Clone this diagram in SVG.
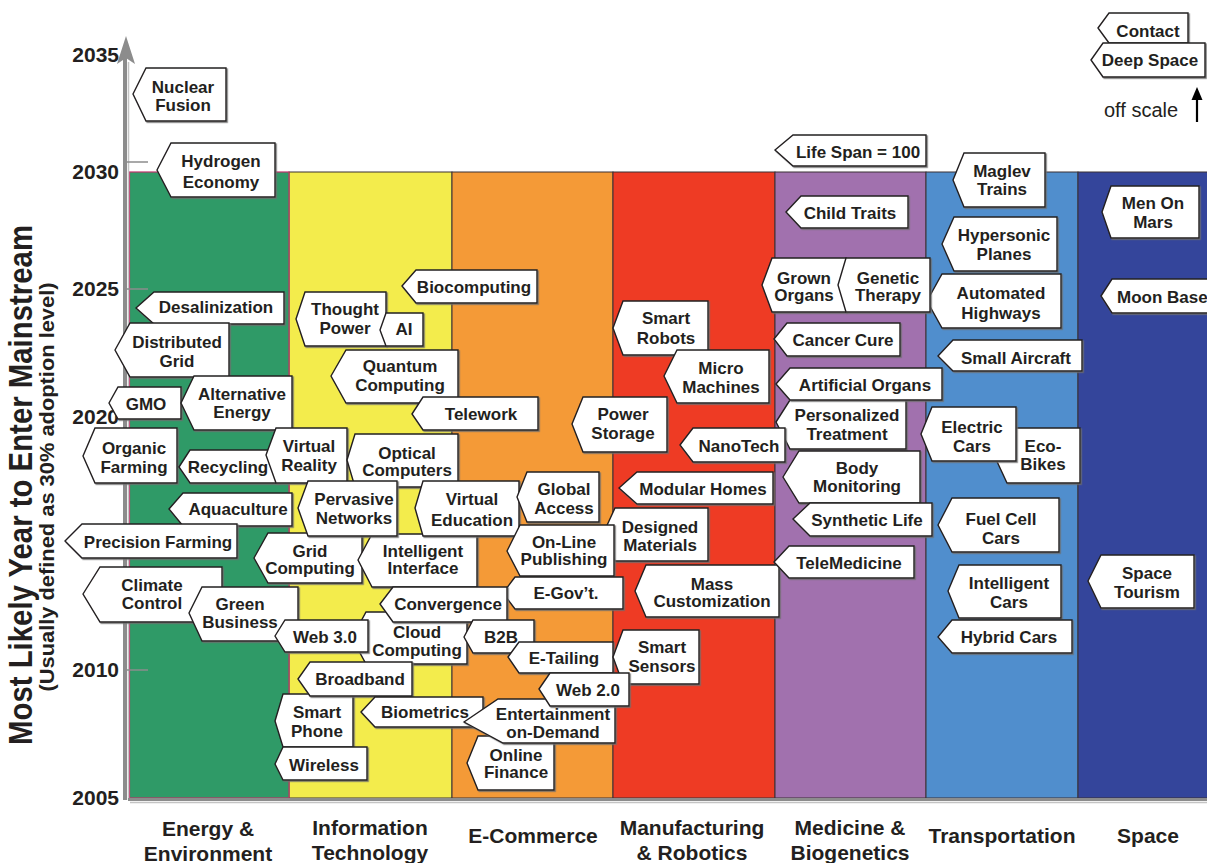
<svg xmlns="http://www.w3.org/2000/svg" width="1207" height="863" viewBox="0 0 1207 863">
<defs>
<filter id="sh" x="-5%" y="-5%" width="115%" height="130%">
<feDropShadow dx="1.2" dy="1.2" stdDeviation="0.3" flood-color="#6d6d6d" flood-opacity="0.9"/>
</filter>
<style>
.col { stroke:#3a3035; stroke-width:1; }
.tag polygon { fill:#fff; stroke:#231f20; stroke-width:1.4; filter:url(#sh); }
.tag text { font-family:"Liberation Sans", Arial, sans-serif; font-weight:bold; font-size:17px; fill:#231f20; text-anchor:middle; }
.yr { font-family:"Liberation Sans", Arial, sans-serif; font-weight:bold; font-size:21px; fill:#231f20; text-anchor:end; }
.cat { font-family:"Liberation Sans", Arial, sans-serif; font-weight:bold; font-size:21px; fill:#231f20; text-anchor:middle; }
.tick { stroke:#8c8c8c; stroke-width:1.5; }
</style>
</defs>
<rect width="1207" height="863" fill="#fff"/>

<g id="columns">
<rect class="col" x="289" y="172" width="163" height="626" fill="#f3ec4c"/>
<rect class="col" x="452" y="172" width="161" height="626" fill="#f49a37"/>
<rect class="col" x="613" y="172" width="162" height="626" fill="#ee3b24"/>
<rect class="col" x="775" y="172" width="151" height="626" fill="#a171ae"/>
<rect class="col" x="926" y="172" width="152" height="626" fill="#508ecd"/>
<rect class="col" x="1078" y="172" width="135" height="626" fill="#34459b"/>
<rect x="129.5" y="172" width="159.5" height="626" fill="#2f9a67" stroke="#c0336a" stroke-width="1.2"/>
</g>

<g id="axes">
<line x1="125" y1="58" x2="125" y2="800" stroke="#8c8c8c" stroke-width="4"/>
<line x1="128.5" y1="62" x2="128.5" y2="800" stroke="#c4c4c4" stroke-width="1.5"/>
<polygon points="126,36 135,64 126,58 117,64" fill="#8c8c8c"/>
<line x1="128" y1="799.5" x2="1207" y2="799.5" stroke="#8c8c8c" stroke-width="3"/>
<line x1="130" y1="802.5" x2="1207" y2="802.5" stroke="#c4c4c4" stroke-width="1.5"/>
<line class="tick" x1="125" y1="162" x2="148" y2="162"/>
<line class="tick" x1="125" y1="289" x2="148" y2="289"/>
<line class="tick" x1="125" y1="416" x2="148" y2="416"/>
<line class="tick" x1="125" y1="543" x2="148" y2="543"/>
<line class="tick" x1="125" y1="670" x2="148" y2="670"/>
<text class="yr" x="119" y="62">2035</text>
<text class="yr" x="119" y="179">2030</text>
<text class="yr" x="119" y="296">2025</text>
<text class="yr" x="119" y="424">2020</text>
<text class="yr" x="119" y="677">2010</text>
<text class="yr" x="119" y="805">2005</text>
<text font-family="Liberation Sans, Arial, sans-serif" font-weight="bold" font-size="33" fill="#231f20" text-anchor="middle" transform="translate(32,485) rotate(-90)" textLength="520" lengthAdjust="spacingAndGlyphs">Most Likely Year to Enter Mainstream</text>
<text font-family="Liberation Sans, Arial, sans-serif" font-weight="bold" font-size="20" fill="#231f20" text-anchor="middle" transform="translate(54,487) rotate(-90)" textLength="409" lengthAdjust="spacingAndGlyphs">(Usually defined as 30% adoption level)</text>
</g>

<g id="categories">
<text class="cat" x="208" y="836">Energy &amp;<tspan x="208" y="861">Environment</tspan></text>
<text class="cat" x="370" y="835">Information<tspan x="370" y="860">Technology</tspan></text>
<text class="cat" x="533" y="843">E-Commerce</text>
<text class="cat" x="692" y="835">Manufacturing<tspan x="692" y="860">&amp; Robotics</tspan></text>
<text class="cat" x="850" y="835">Medicine &amp;<tspan x="850" y="860">Biogenetics</tspan></text>
<text class="cat" x="1002" y="843">Transportation</text>
<text class="cat" x="1148" y="843">Space</text>
</g>

<g id="connectors">
<line x1="1197" y1="122" x2="1197" y2="98" stroke="#000" stroke-width="2.2"/>
<polygon points="1197,87 1202.5,100 1191.5,100" fill="#000"/>
<text x="1104" y="117" font-family="Liberation Sans, Arial, sans-serif" font-size="20" fill="#231f20">off scale</text>
</g>

<g id="nodes">
<g class="tag" id="n-nuclear"><polygon points="133,94 146,68 226,68 226,121 146,121"/><text x="183" y="93">Nuclear<tspan x="183" y="111">Fusion</tspan></text></g>
<g class="tag" id="n-hydrogen"><polygon points="157,170 171,143 275,143 275,197 171,197"/><text x="221" y="167">Hydrogen<tspan x="221" y="188">Economy</tspan></text></g>
<g class="tag" id="n-desal"><polygon points="136,308 154,292 284,292 284,324 154,324"/><text x="216" y="313">Desalinization</text></g>
<g class="tag" id="n-distgrid"><polygon points="115,350 130,323 229,323 229,377 130,377"/><text x="177" y="348">Distributed<tspan x="177" y="367">Grid</tspan></text></g>
<g class="tag" id="n-gmo"><polygon points="109,403 118,387 181,387 181,419 118,419"/><text x="146" y="410">GMO</text></g>
<g class="tag" id="n-alt"><polygon points="181,403 194,376 292,376 292,430 194,430"/><text x="242" y="400">Alternative<tspan x="242" y="418">Energy</tspan></text></g>
<g class="tag" id="n-organic"><polygon points="83,456 95,428 177,428 177,483 95,483"/><text x="134" y="454">Organic<tspan x="134" y="473">Farming</tspan></text></g>
<g class="tag" id="n-recycling"><polygon points="179,467 190,450 278,450 278,483 190,483"/><text x="228" y="473">Recycling</text></g>
<g class="tag" id="n-vr"><polygon points="266,455 276,428 347,428 347,483 276,483"/><text x="309" y="452">Virtual<tspan x="309" y="471">Reality</tspan></text></g>
<g class="tag" id="n-aqua"><polygon points="169,509 183,493 292,493 292,526 183,526"/><text x="238" y="515">Aquaculture</text></g>
<g class="tag" id="n-precision"><polygon points="65,541 82,524 237,524 237,558 82,558"/><text x="158" y="548">Precision Farming</text></g>
<g class="tag" id="n-climate"><polygon points="83,594 100,567 222,567 222,622 100,622"/><text x="152" y="591">Climate<tspan x="152" y="609">Control</tspan></text></g>
<g class="tag" id="n-greenbiz"><polygon points="189,613 202,587 298,587 298,641 202,641"/><text x="240" y="610">Green<tspan x="240" y="628">Business</tspan></text></g>
<g class="tag" id="n-smartphone"><polygon points="275,721 283,694 353,694 353,747 283,747"/><text x="317" y="718">Smart<tspan x="317" y="737">Phone</tspan></text></g>
<g class="tag" id="n-wireless"><polygon points="275,764 283,747 367,747 367,780 283,780"/><text x="324" y="771">Wireless</text></g>
<g class="tag" id="n-grid"><polygon points="254,558 268,533 362,533 362,583 268,583"/><text x="310" y="557">Grid<tspan x="310" y="574">Computing</tspan></text></g>
<g class="tag" id="n-intelint"><polygon points="358,560 372,534 477,534 477,587 372,587"/><text x="423" y="557">Intelligent<tspan x="423" y="574">Interface</tspan></text></g>
<g class="tag" id="n-thought"><polygon points="296,319 305,292 386,292 386,346 305,346"/><text x="345" y="315">Thought<tspan x="345" y="334">Power</tspan></text></g>
<g class="tag" id="n-ai"><polygon points="380,330 386,313 423,313 423,346 386,346"/><text x="404" y="335">AI</text></g>
<g class="tag" id="n-biocomp"><polygon points="402,286 416,270 537,270 537,303 416,303"/><text x="474" y="293">Biocomputing</text></g>
<g class="tag" id="n-quantum"><polygon points="331,376 346,350 458,350 458,403 346,403"/><text x="400" y="372">Quantum<tspan x="400" y="391">Computing</tspan></text></g>
<g class="tag" id="n-telework"><polygon points="412,414 423,397 538,397 538,430 423,430"/><text x="481" y="420">Telework</text></g>
<g class="tag" id="n-optical"><polygon points="347,460 355,434 458,434 458,487 355,487"/><text x="407" y="459">Optical<tspan x="407" y="476">Computers</tspan></text></g>
<g class="tag" id="n-pervasive"><polygon points="298,508 308,481 397,481 397,536 308,536"/><text x="354" y="505">Pervasive<tspan x="354" y="524">Networks</tspan></text></g>
<g class="tag" id="n-virtedu"><polygon points="415,508 423,481 519,481 519,536 423,536"/><text x="472" y="505">Virtual<tspan x="472" y="526">Education</tspan></text></g>
<g class="tag" id="n-global"><polygon points="517,497 527,472 599,472 599,522 527,522"/><text x="564" y="495">Global<tspan x="564" y="514">Access</tspan></text></g>
<g class="tag" id="n-designed"><polygon points="603,534 615,508 708,508 708,561 615,561"/><text x="660" y="533">Designed<tspan x="660" y="551">Materials</tspan></text></g>
<g class="tag" id="n-olpub"><polygon points="507,551 520,525 614,525 614,576 520,576"/><text x="564" y="548">On-Line<tspan x="564" y="565">Publishing</tspan></text></g>
<g class="tag" id="n-egov"><polygon points="503,593 515,577 623,577 623,609 515,609"/><text x="566" y="599">E-Gov’t.</text></g>
<g class="tag" id="n-cloud"><polygon points="352,638 366,612 467,612 467,664 366,664"/><text x="417" y="638">Cloud<tspan x="417" y="656">Computing</tspan></text></g>
<g class="tag" id="n-convergence"><polygon points="380,604 393,587 507,587 507,622 393,622"/><text x="448" y="610">Convergence</text></g>
<g class="tag" id="n-web30"><polygon points="275,636 285,620 368,620 368,652 285,652"/><text x="325" y="643">Web 3.0</text></g>
<g class="tag" id="n-b2b"><polygon points="464,637 473,620 534,620 534,653 473,653"/><text x="501" y="643">B2B</text></g>
<g class="tag" id="n-etailing"><polygon points="508,657 519,642 613,642 613,673 519,673"/><text x="564" y="664">E-Tailing</text></g>
<g class="tag" id="n-broadband"><polygon points="298,679 310,662 412,662 412,696 310,696"/><text x="360" y="685">Broadband</text></g>
<g class="tag" id="n-biometrics"><polygon points="361,712 375,697 483,697 483,727 375,727"/><text x="425" y="718">Biometrics</text></g>
<g class="tag" id="n-finance"><polygon points="467,763 478,736 554,736 554,790 478,790"/><text x="516" y="761">Online<tspan x="516" y="778">Finance</tspan></text></g>
<g class="tag" id="n-entertain"><polygon points="464,722 498,699 615,699 615,743 503,743"/><text x="553" y="720">Entertainment<tspan x="553" y="738">on-Demand</tspan></text></g>
<g class="tag" id="n-sensors"><polygon points="613,657 623,630 699,630 699,684 623,684"/><text x="662" y="653">Smart<tspan x="662" y="672">Sensors</tspan></text></g>
<g class="tag" id="n-web20"><polygon points="539,689 550,673 629,673 629,706 550,706"/><text x="588" y="696">Web 2.0</text></g>
<g class="tag" id="n-robots"><polygon points="613,328 623,301 708,301 708,355 623,355"/><text x="666" y="324">Smart<tspan x="666" y="344">Robots</tspan></text></g>
<g class="tag" id="n-micro"><polygon points="664,376 677,350 769,350 769,403 677,403"/><text x="721" y="374">Micro<tspan x="721" y="393">Machines</tspan></text></g>
<g class="tag" id="n-power"><polygon points="572,424 583,397 667,397 667,452 583,452"/><text x="623" y="420">Power<tspan x="623" y="439">Storage</tspan></text></g>
<g class="tag" id="n-personal"><polygon points="776,422 790,400 906,400 906,449 790,449"/><text x="847" y="421">Personalized<tspan x="847" y="440">Treatment</tspan></text></g>
<g class="tag" id="n-nanotech"><polygon points="680,445 693,428 785,428 785,462 693,462"/><text x="739" y="452">NanoTech</text></g>
<g class="tag" id="n-modular"><polygon points="619,488 637,472 773,472 773,504 637,504"/><text x="703" y="495">Modular Homes</text></g>
<g class="tag" id="n-mass"><polygon points="635,591 646,565 779,565 779,617 646,617"/><text x="712" y="590">Mass<tspan x="712" y="607">Customization</tspan></text></g>
<g class="tag" id="n-lifespan"><polygon points="775,150 793,135 926,135 926,166 793,166"/><text x="858" y="158">Life Span = 100</text></g>
<g class="tag" id="n-child"><polygon points="786,212 801,196 908,196 908,228 801,228"/><text x="850" y="219">Child Traits</text></g>
<g class="tag" id="n-grown"><polygon points="762,285 772,258 846,258 846,312 772,312"/><text x="804" y="284">Grown<tspan x="804" y="301">Organs</tspan></text></g>
<g class="tag" id="n-automated"><polygon points="927,301 942,274 1061,274 1061,328 942,328"/><text x="1001" y="299">Automated<tspan x="1001" y="319">Highways</tspan></text></g>
<g class="tag" id="n-genetic"><polygon points="838,285 846,258 930,258 930,312 846,312"/><text x="888" y="284">Genetic<tspan x="888" y="301">Therapy</tspan></text></g>
<g class="tag" id="n-cancer"><polygon points="774,339 787,323 900,323 900,356 787,356"/><text x="843" y="346">Cancer Cure</text></g>
<g class="tag" id="n-artorg"><polygon points="776,384 790,368 942,368 942,400 790,400"/><text x="865" y="391">Artificial Organs</text></g>
<g class="tag" id="n-body"><polygon points="783,477 799,451 920,451 920,503 799,503"/><text x="857" y="474">Body<tspan x="857" y="492">Monitoring</tspan></text></g>
<g class="tag" id="n-synth"><polygon points="793,519 810,503 932,503 932,536 810,536"/><text x="867" y="526">Synthetic Life</text></g>
<g class="tag" id="n-telemed"><polygon points="774,562 789,546 914,546 914,578 789,578"/><text x="849" y="569">TeleMedicine</text></g>
<g class="tag" id="n-maglev"><polygon points="953,180 964,153 1045,153 1045,207 964,207"/><text x="1002" y="177">Maglev<tspan x="1002" y="195">Trains</tspan></text></g>
<g class="tag" id="n-hyper"><polygon points="942,244 954,217 1057,217 1057,271 954,271"/><text x="1004" y="241">Hypersonic<tspan x="1004" y="260">Planes</tspan></text></g>
<g class="tag" id="n-aircraft"><polygon points="938,356 953,340 1082,340 1082,371 953,371"/><text x="1016" y="364">Small Aircraft</text></g>
<g class="tag" id="n-ecobikes"><polygon points="994,455 1007,428 1080,428 1080,483 1007,483"/><text x="1043" y="452">Eco-<tspan x="1043" y="470">Bikes</tspan></text></g>
<g class="tag" id="n-electric"><polygon points="921,434 932,407 1016,407 1016,461 932,461"/><text x="972" y="433">Electric<tspan x="972" y="452">Cars</tspan></text></g>
<g class="tag" id="n-fuelcell"><polygon points="938,525 952,498 1059,498 1059,552 952,552"/><text x="1001" y="525">Fuel Cell<tspan x="1001" y="544">Cars</tspan></text></g>
<g class="tag" id="n-intcars"><polygon points="948,591 959,565 1061,565 1061,618 959,618"/><text x="1009" y="589">Intelligent<tspan x="1009" y="608">Cars</tspan></text></g>
<g class="tag" id="n-hybrid"><polygon points="938,637 952,620 1072,620 1072,653 952,653"/><text x="1009" y="643">Hybrid Cars</text></g>
<g class="tag" id="n-contact"><polygon points="1098,28 1109,13 1188,13 1188,43 1109,43"/><text x="1148" y="37">Contact</text></g>
<g class="tag" id="n-deepspace"><polygon points="1091,60 1103,43 1205,43 1205,77 1103,77"/><text x="1150" y="66">Deep Space</text></g>
<g class="tag" id="n-mars"><polygon points="1102,212 1111,186 1199,186 1199,238 1111,238"/><text x="1153" y="209">Men On<tspan x="1153" y="228">Mars</tspan></text></g>
<g class="tag" id="n-moon"><polygon points="1101,296 1112,279 1215,279 1215,313 1112,313"/><text x="1117" y="303" style="text-anchor:start">Moon Base</text></g>
<g class="tag" id="n-tourism"><polygon points="1088,581 1101,555 1194,555 1194,608 1101,608"/><text x="1147" y="579">Space<tspan x="1147" y="598">Tourism</tspan></text></g>
</g>
</svg>
